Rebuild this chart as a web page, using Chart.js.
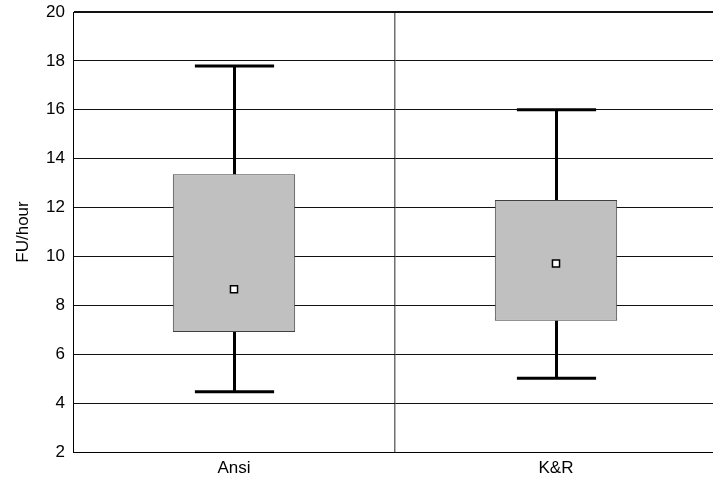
<!DOCTYPE html>
<html>
<head>
<meta charset="utf-8">
<script src="https://cdn.jsdelivr.net/npm/chart.js@4/dist/chart.umd.min.js"></script>
<style>
html,body{margin:0;padding:0;background:#fff;overflow:hidden;width:713px;height:481px;}
canvas{display:block;}
</style>
</head>
<body>
<canvas id="c" width="717" height="481"></canvas>
<script>
const categories = ['Ansi', 'K&R'];
const whiskerMin = [4.46, 5.02];
const boxLow = [6.91, 7.37];
const boxHigh = [13.36, 12.31];
const whiskerMax = [17.79, 16.0];
const centerMark = [8.66, 9.71];
const yTicks = [2, 4, 6, 8, 10, 12, 14, 16, 18, 20];

const FONT = {family: '"Liberation Sans", Arial, sans-serif', size: 17};

const whiskerPlugin = {
  id: 'whiskers',
  beforeDatasetsDraw(chart) {
    const ctx = chart.ctx;
    const xs = chart.scales.x, ys = chart.scales.y;
    const catW = (xs.getPixelForValue(1) - xs.getPixelForValue(0));
    ctx.save();
    ctx.strokeStyle = '#000';
    ctx.lineWidth = 3;
    ctx.lineCap = 'butt';
    categories.forEach((c, i) => {
      const x = Math.round(xs.getPixelForValue(i)) + 0.5;
      const half = catW * 0.123;
      const yMin = ys.getPixelForValue(whiskerMin[i]);
      const yLo = ys.getPixelForValue(boxLow[i]);
      const yHi = ys.getPixelForValue(boxHigh[i]);
      const yMax = ys.getPixelForValue(whiskerMax[i]);
      ctx.beginPath();
      ctx.moveTo(x, yLo); ctx.lineTo(x, yMin);
      ctx.moveTo(x, yHi); ctx.lineTo(x, yMax);
      ctx.moveTo(x - half, yMin); ctx.lineTo(x + half, yMin);
      ctx.moveTo(x - half, yMax); ctx.lineTo(x + half, yMax);
      ctx.stroke();
    });
    ctx.restore();
  }
};

new Chart(document.getElementById('c'), {
  type: 'bar',
  data: {
    labels: categories,
    datasets: [
      {
        type: 'line',
        data: centerMark,
        showLine: false,
        pointStyle: 'rect',
        pointRadius: 5,
        pointBackgroundColor: '#fff',
        pointBorderColor: '#000',
        pointBorderWidth: 1.5,
        order: 0
      },
      {
        type: 'bar',
        data: categories.map((c, i) => [boxLow[i], boxHigh[i]]),
        backgroundColor: '#c0c0c0',
        borderColor: '#404040',
        borderWidth: 1,
        borderSkipped: false,
        categoryPercentage: 1,
        barPercentage: 0.38,
        order: 1
      }
    ]
  },
  options: {
    responsive: false,
    animation: false,
    layout: {autoPadding: false, padding: {top: 12, right: 0, left: 0, bottom: 0}},
    plugins: {legend: {display: false}, tooltip: {enabled: false}},
    scales: {
      x: {
        offset: true,
        grid: {
          offset: true,
          drawTicks: false,
          color: (ctx) => ctx.index === 1 ? '#707070' : 'rgba(0,0,0,0)',
          lineWidth: 1.5
        },
        border: {display: true, color: '#000', width: 1},
        ticks: {font: FONT, color: '#000', padding: 6},
        afterFit(s) { s.height = 29; s.paddingLeft = 0; s.paddingRight = 0; }
      },
      y: {
        min: 2,
        max: 20,
        afterBuildTicks(s) { s.ticks = yTicks.map(v => ({value: v})); },
        grid: {
          drawTicks: false,
          color: '#111',
          lineWidth: (ctx) => (ctx.tick && ctx.tick.value === 20) ? 2 : 1
        },
        border: {display: true, color: '#000', width: 1},
        ticks: {font: FONT, color: '#000', padding: 8},
        title: {display: true, text: 'FU/hour', font: FONT, color: '#000', padding: {top: 13, bottom: 0}},
        afterFit(s) { s.width = 73; s.paddingTop = 0; s.paddingBottom = 0; }
      }
    }
  },
  plugins: [whiskerPlugin]
});
</script>
</body>
</html>
